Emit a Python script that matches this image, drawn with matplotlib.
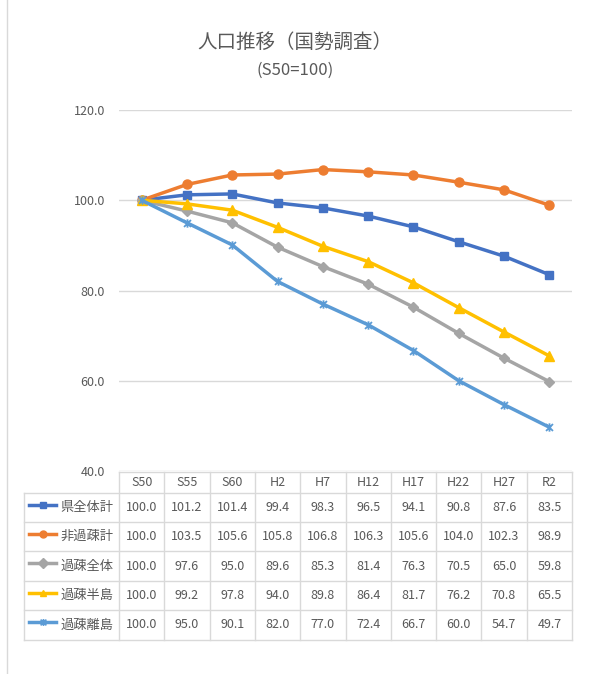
import numpy as np
import matplotlib.pyplot as plt
from matplotlib.lines import Line2D
from matplotlib.path import Path

plt.rcParams['font.family'] = ['Noto Sans CJK JP', 'DejaVu Sans']

years = ['S50', 'S55', 'S60', 'H2', 'H7', 'H12', 'H17', 'H22', 'H27', 'R2']
names = ['県全体計', '非過疎計', '過疎全体', '過疎半島', '過疎離島']
ken = [100.0, 101.2, 101.4, 99.4, 98.3, 96.5, 94.1, 90.8, 87.6, 83.5]
hikaso = [100.0, 103.5, 105.6, 105.8, 106.8, 106.3, 105.6, 104.0, 102.3, 98.9]
kaso = [100.0, 97.6, 95.0, 89.6, 85.3, 81.4, 76.3, 70.5, 65.0, 59.8]
hanto = [100.0, 99.2, 97.8, 94.0, 89.8, 86.4, 81.7, 76.2, 70.8, 65.5]
rito = [100.0, 95.0, 90.1, 82.0, 77.0, 72.4, 66.7, 60.0, 54.7, 49.7]

series = [ken, hikaso, kaso, hanto, rito]
colors = ['#4472C4', '#ED7D31', '#A5A5A5', '#FFC000', '#5B9BD5']

# x with a vertical bar through it
star = Path([(-1, -1), (1, 1), (-1, 1), (1, -1), (0, -1.2), (0, 1.2)],
            [Path.MOVETO, Path.LINETO, Path.MOVETO, Path.LINETO,
             Path.MOVETO, Path.LINETO])
markers = ['s', 'o', 'D', '^', star]
msizes = [6, 6.5, 5, 6.5, 6]

W, H = 590, 674
fig = plt.figure(figsize=(W / 100, H / 100), dpi=100)

def fx(px):
    return px / W

def fy(py):
    return 1 - py / H

# plot area: x 119..572, y 110 (120.0) .. 471 (40.0)
ax = fig.add_axes([fx(119), fy(471), fx(572) - fx(119), fy(110) - fy(471)])
x = np.arange(len(years))
for vals, c, m, ms in zip(series, colors, markers, msizes):
    mew = 1.3 if m is star else 1
    ax.plot(x, vals, color=c, lw=2.5, marker=m, ms=ms, mew=mew,
            mec=c, mfc=c, zorder=3)
ax.set_xlim(-0.5, len(years) - 0.5)
ax.set_ylim(40, 120)
ax.set_yticks([40, 60, 80, 100, 120])
ax.set_yticklabels(['%.1f' % v for v in [40, 60, 80, 100, 120]],
                   fontsize=9, color='#595959')
ax.set_xticks([])
ax.tick_params(axis='y', length=0, pad=10)
ax.grid(axis='y', color='#D9D9D9', lw=1)
for s in ax.spines.values():
    s.set_visible(False)

# title
fig.text(0.5, fy(42), '人口推移（国勢調査）', ha='center', va='center',
         fontsize=14, color='#595959')
fig.text(0.5, fy(70), '(S50=100)', ha='center', va='center',
         fontsize=12, color='#595959')

# data table below the plot
col0, col1, right = 24, 119, 572
cw = (right - col1) / len(years)
hrow = [472, 493, 522, 551, 581, 610, 640]
gc = '#D9D9D9'
tc = '#595959'
lines = []
# horizontal rules
lines.append(Line2D([fx(col1), fx(right)], [fy(hrow[0])] * 2))
for yy in hrow[1:]:
    lines.append(Line2D([fx(col0), fx(right)], [fy(yy)] * 2))
# vertical rules
lines.append(Line2D([fx(col0)] * 2, [fy(hrow[1]), fy(hrow[-1])]))
for i in range(len(years) + 1):
    xx = col1 + i * cw
    lines.append(Line2D([fx(xx)] * 2, [fy(hrow[0]), fy(hrow[-1])]))
for ln in lines:
    ln.set_color(gc)
    ln.set_linewidth(1)
    fig.add_artist(ln)

for i, yr in enumerate(years):
    cx = col1 + (i + 0.5) * cw
    fig.text(fx(cx), fy((hrow[0] + hrow[1]) / 2), yr, ha='center',
             va='center', fontsize=9, color=tc)

for r, (nm, vals, c, m) in enumerate(zip(names, series, colors, markers)):
    cy = (hrow[r + 1] + hrow[r + 2]) / 2
    for i, v in enumerate(vals):
        cx = col1 + (i + 0.5) * cw
        fig.text(fx(cx), fy(cy), '%.1f' % v, ha='center', va='center',
                 fontsize=9, color=tc)
    mew = 1.2 if m is star else 1
    key = Line2D([fx(29), fx(56)], [fy(cy - 3)] * 2, color=c, lw=2.5)
    fig.add_artist(key)
    mk = Line2D([fx(42.5)], [fy(cy - 3)], color=c, marker=m, ms=5, mew=mew,
                mec=c, mfc=c)
    fig.add_artist(mk)
    fig.text(fx(60.5), fy(cy), nm, ha='left', va='center', fontsize=9.5,
             color=tc)

# chart frame edge
fig.add_artist(Line2D([fx(7)] * 2, [0, 1], color='#D9D9D9', lw=1))

fig.savefig('out.png', dpi=100)
